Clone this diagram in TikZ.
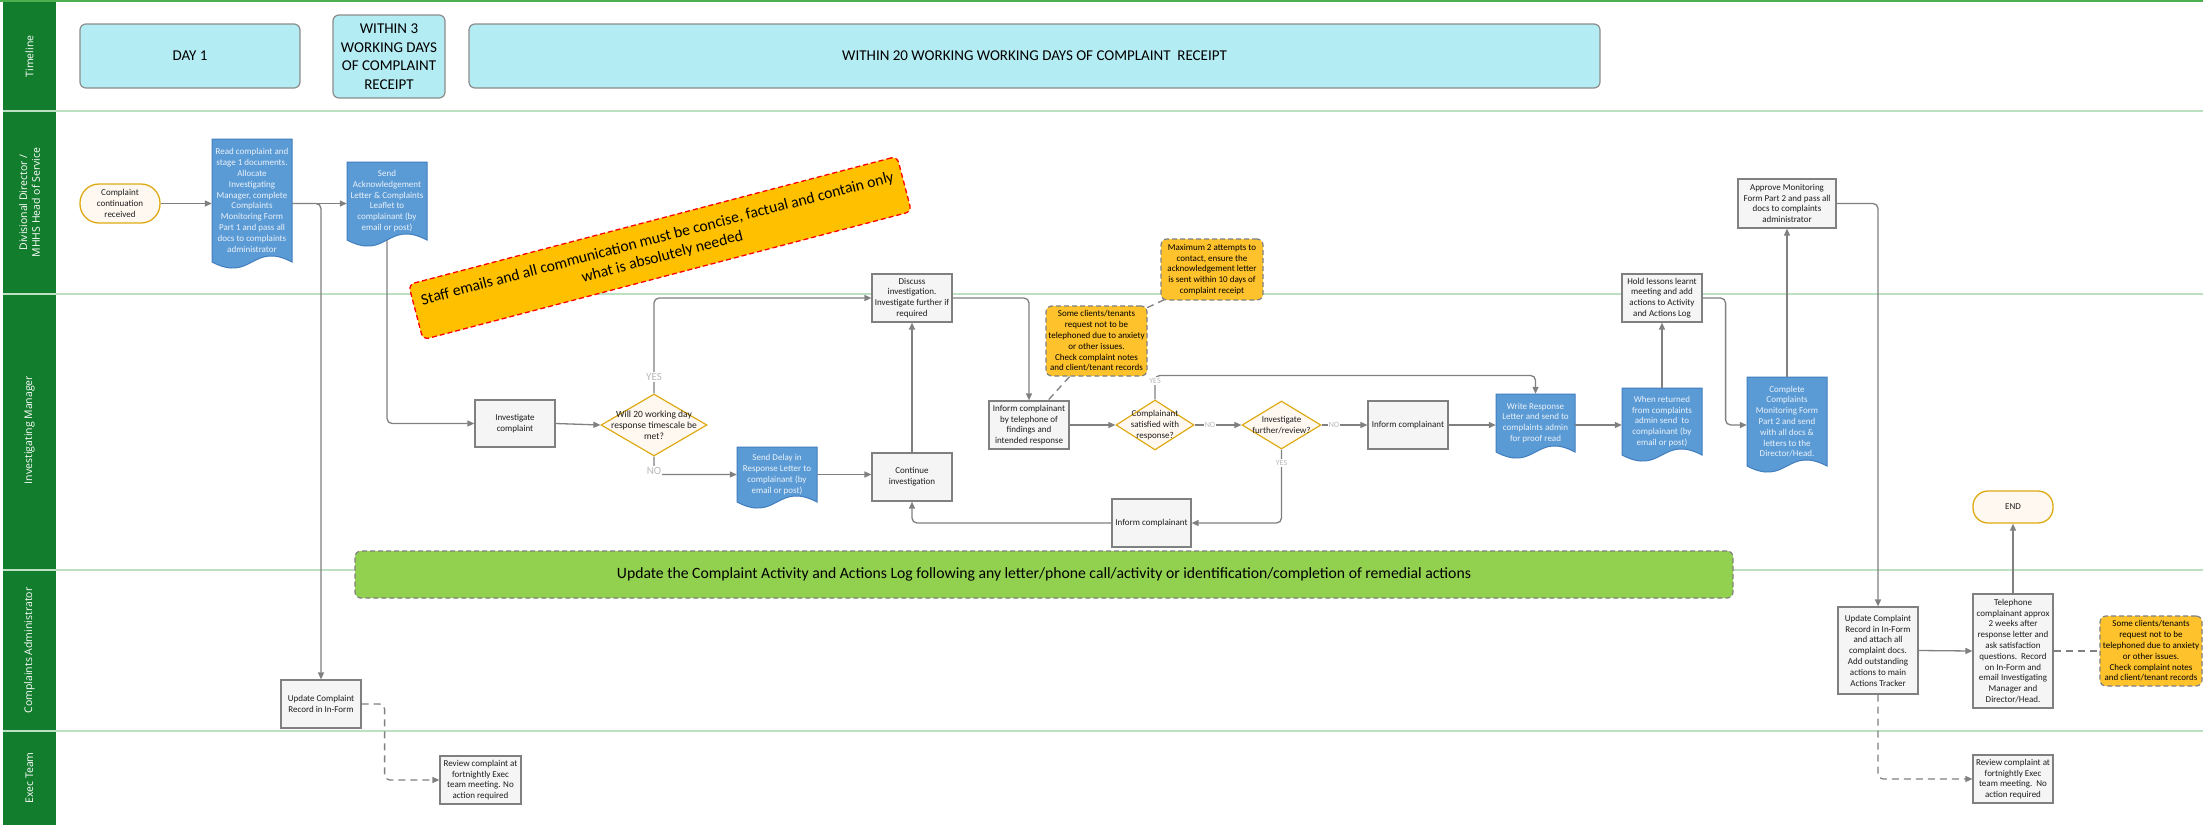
\documentclass[tikz,border=0pt]{standalone}
\usepackage{fontspec}
\setmainfont{Carlito}
\newfontfamily\hdrfont{Open Sans}
\usetikzlibrary{arrows.meta,shapes.geometric,calc}

\definecolor{hdrgreen}{RGB}{19,125,46}
\definecolor{sepgreen}{RGB}{190,224,194}
\definecolor{topgreen}{RGB}{76,175,80}
\definecolor{tlfill}{RGB}{180,236,243}
\definecolor{tlborder}{RGB}{140,140,140}
\definecolor{docblue}{RGB}{91,155,213}
\definecolor{docborder}{RGB}{65,125,190}
\definecolor{notefill}{RGB}{254,194,44}
\definecolor{bannerfill}{RGB}{255,192,0}
\definecolor{barfill}{RGB}{146,208,80}
\definecolor{gold}{RGB}{222,170,20}
\definecolor{cream}{RGB}{255,248,240}
\definecolor{boxfill}{RGB}{245,245,245}
\definecolor{boxborder}{RGB}{128,128,128}
\definecolor{linegray}{RGB}{128,128,128}
\definecolor{lblgray}{RGB}{185,185,185}
\definecolor{textdark}{RGB}{30,30,30}
\definecolor{doctxt}{RGB}{235,242,250}

\newcommand\smallf{\fontsize{9}{10.8}\selectfont}
\newcommand\bigf{\fontsize{15}{18.5}\selectfont}
\newcommand\barf{\fontsize{15.7}{18.5}\selectfont}
\newcommand\hdrf{\hdrfont\fontsize{10.5}{12.8}\selectfont}

\tikzset{
  box/.style={draw=boxborder, fill=boxfill, line width=1.2pt, align=center, inner sep=1pt, font=\smallf, text=textdark},
  term/.style={draw=gold, fill=cream, line width=1.3pt, rounded corners=15pt, align=center, inner sep=1pt, font=\smallf, text=textdark},
  dia/.style={shape=diamond, draw=gold, fill=cream, line width=1.2pt, inner sep=0pt},
  diatext/.style={align=center, inner sep=0pt, font=\smallf, text=textdark},
  docstyle/.style={draw=docborder, fill=docblue, line width=1pt},
  doctextstyle/.style={align=center, inner sep=1pt, font=\smallf, text=doctxt},
  note/.style={draw=linegray, dash pattern=on 5pt off 3pt, fill=notefill, line width=1.2pt, rounded corners=6pt, align=center, inner sep=1pt, font=\smallf, text=black},
  tlbox/.style={draw=tlborder, fill=tlfill, line width=1.2pt, rounded corners=6pt, align=center, font=\bigf, text=black},
  hdrtext/.style={rotate=90, align=center, font=\hdrf, text=white},
  conn/.style={draw=linegray, line width=1.3pt, rounded corners=5pt},
  arr/.style={conn, -{Triangle[length=7pt,width=6pt]}},
  dconn/.style={conn, dash pattern=on 7pt off 5pt},
  darr/.style={arr, dash pattern=on 7pt off 5pt},
  lbl/.style={font=\fontsize{11}{12}\selectfont, text=lblgray, fill=white, inner sep=1pt},
  slbl/.style={font=\fontsize{8}{9}\selectfont, text=lblgray, fill=white, inner sep=1pt}
}

\newcommand\docshape[6]{%
  \filldraw[docstyle] (#2,#3) -- (#4,#3) -- (#4,#5) .. controls ({(#2+#4)/2},{#5-21}) and ({(#2+#4)/2},{#5+21}) .. (#2,#5) -- cycle;
  \node[doctextstyle, minimum width={#4-#2}, minimum height={#5-#3}] (#1) at ({(#2+#4)/2},{(#3+#5)/2}) {#6};
}

\begin{document}
\begin{tikzpicture}[x=1pt,y=-1pt]
\useasboundingbox (0,0) rectangle (2203,825);
\fill[white] (0,0) rectangle (2203,825);

% lanes
\draw[topgreen, line width=2pt] (0,1) -- (2203,1);
\foreach \yy in {111,294,570,731} {\draw[sepgreen, line width=1.5pt] (56,\yy) -- (2203,\yy);}
\fill[hdrgreen] (3,2) rectangle (56,825);
\foreach \yy in {111,294,570,731} {\draw[sepgreen, line width=1.5pt] (3,\yy) -- (56,\yy);}
\node[hdrtext] (hTL) at (29.5,56.5) {Timeline};
\node[hdrtext] (hDD) at (29.5,202.5) {Divisional Director /\\MHHS Head of Service};
\node[hdrtext] (hIM) at (29.5,430) {Investigating Manager};
\node[hdrtext] (hCA) at (29.5,650.5) {Complaints Administrator};
\node[hdrtext] (hET) at (29.5,778) {Exec Team};

% timeline
\node[tlbox, minimum width=220, minimum height=64] (t1) at (190,56) {DAY 1};
\node[tlbox, minimum width=112, minimum height=83, inner sep=1pt] (t2) at (389,56.5) {WITHIN 3\\WORKING DAYS\\OF COMPLAINT\\RECEIPT};
\node[tlbox, minimum width=1131, minimum height=64] (t3) at (1034.5,56) {WITHIN 20 WORKING WORKING DAYS OF COMPLAINT\ \ RECEIPT};

% divisional director lane
\node[term, rounded corners=19pt, minimum width=80, minimum height=39] (start) at (120,203.5) {Complaint\\continuation\\received};
\docshape{doc1}{212}{139}{292}{262}{Read complaint and\\stage 1 documents.\\Allocate\\Investigating\\Manager, complete\\Complaints\\Monitoring Form\\Part 1 and pass all\\docs to complaints\\administrator}
\docshape{doc2}{347}{162}{427}{240}{Send\\Acknowledgement\\Letter \& Complaints\\Leaflet to\\complainant (by\\email or post)}
\node[box, minimum width=98, minimum height=49] (approve) at (1787,203.5) {Approve Monitoring\\Form Part 2 and pass all\\docs to complaints\\administrator};

% investigating manager lane
\node[box, minimum width=80, minimum height=47] (invest) at (515,423.5) {Investigate\\complaint};
\node[dia, minimum width=106, minimum height=62] (dia1) at (654,425) {};
\node[diatext, font=\fontsize{9.5}{11}\selectfont] (dia1t) at (dia1) {Will 20 working day\\response timescale be\\met?};
\node[box, minimum width=80, minimum height=48] (discuss) at (912,298) {Discuss\\investigation.\\Investigate further if\\required};
\docshape{delay}{737}{447}{817}{502}{Send Delay in\\Response Letter to\\complainant (by\\email or post)}
\node[box, minimum width=80, minimum height=48] (cont) at (912,477) {Continue\\investigation};
\node[box, minimum width=80, minimum height=48] (inform1) at (1029,425) {Inform complainant\\by telephone of\\findings and\\intended response};
\node[note, minimum width=101, minimum height=70] (note1) at (1096.5,341) {Some clients/tenants\\request not to be\\telephoned due to anxiety\\or other issues.\\Check complaint notes\\and client/tenant records};
\node[note, minimum width=102, minimum height=61] (note2) at (1212,269.5) {Maximum 2 attempts to\\contact, ensure the\\acknowledgement letter\\is sent within 10 days of\\complaint receipt};
\node[dia, minimum width=78, minimum height=50] (dia2) at (1155,425) {};
\node[diatext] (dia2t) at (dia2) {Complainant\\satisfied with\\response?};
\node[dia, minimum width=79, minimum height=48] (dia3) at (1281.5,425) {};
\node[diatext] (dia3t) at (dia3) {Investigate\\further/review?};
\node[box, minimum width=80, minimum height=48] (inform2) at (1408,425) {Inform complainant};
\docshape{write}{1496}{394}{1575}{452}{Write Response\\Letter and send to\\complaints admin\\for proof read}
\node[box, minimum width=79, minimum height=48] (inform3) at (1151.5,523) {Inform complainant};
\docshape{returned}{1622}{388}{1702}{455}{When returned\\from complaints\\admin send\ \ to\\complainant (by\\email or post)}
\node[box, minimum width=80, minimum height=48] (hold) at (1662,298) {Hold lessons learnt\\meeting and add\\actions to Activity\\and Actions Log};
\docshape{complete}{1747}{377}{1827}{466}{Complete\\Complaints\\Monitoring Form\\Part 2 and send\\with all docs \&\\letters to the\\Director/Head.}
\node[term, minimum width=80, minimum height=32] (endn) at (2013,507) {END};

% banner
\node[draw=red, dash pattern=on 5pt off 3pt, fill=bannerfill, line width=1.3pt, rounded corners=6pt, align=center, font=\barf, text=black, minimum width=505, minimum height=57, inner sep=2pt, rotate=14.7] (banner) at (660,248) {Staff emails and all communication must be concise, factual and contain only\\what is absolutely needed};

% complaints administrator lane
\node[draw=linegray, dash pattern=on 5pt off 3pt, fill=barfill, line width=1.2pt, rounded corners=6pt, font=\barf, text=black, minimum width=1378, minimum height=47] (gbar) at (1044,574.5) {Update the Complaint Activity and Actions Log following any letter/phone call/activity or identification/completion of remedial actions};
\node[box, minimum width=80, minimum height=48] (upd1) at (321,704) {Update Complaint\\Record in In-Form};
\node[box, minimum width=80, minimum height=87] (upd2) at (1878,650.5) {Update Complaint\\Record in In-Form\\and attach all\\complaint docs.\\Add outstanding\\actions to main\\Actions Tracker};
\node[box, minimum width=80, minimum height=114] (tel) at (2013,651) {Telephone\\complainant approx\\2 weeks after\\response letter and\\ask satisfaction\\questions.\ \ Record\\on In-Form and\\email Investigating\\Manager and\\Director/Head.};
\node[note, minimum width=102, minimum height=70] (note3) at (2151,651) {Some clients/tenants\\request not to be\\telephoned due to anxiety\\or other issues.\\Check complaint notes\\and client/tenant records};

% exec team
\node[box, minimum width=81, minimum height=48] (review1) at (480.5,780) {Review complaint at\\fortnightly Exec\\team meeting. No\\action required};
\node[box, minimum width=80, minimum height=48] (review2) at (2013,779) {Review complaint at\\fortnightly Exec\\team meeting.\ \ No\\action required};

% connectors
\draw[arr] (start.east) -- (start.east -| doc1.west);
\draw[arr] (doc1.east |- start.east) -- (doc2.west |- start.east);
\draw[arr] (doc1.east |- start.east) -| (upd1.north);
\draw[arr] (doc2.south) |- (invest.west);
\draw[arr] (invest.east) -- (dia1.west);
\draw[arr] (dia1.north) |- (discuss.west);
\draw[arr] (dia1.south) |- (delay.west);
\draw[arr] (delay.east) -- (delay.east -| cont.west);
\draw[arr] (cont.north) -- (discuss.south);
\draw[arr] (discuss.east) -| (inform1.north);
\draw[dconn] ($(note1.south)+(-27,0)$) -- ($(inform1.north)+(19,0)$);
\draw[dconn] ($(note2.south west)+(4,-1)$) -- ($(note1.north east)+(-2,3)$);
\draw[arr] (inform1.east) -- (dia2.west);
\draw[arr] (dia2.north) -- ++(0,-24) -| (write.north);
\draw[arr] (dia2.east) -- (dia3.west);
\draw[arr] (dia3.east) -- (inform2.west);
\draw[arr] (inform2.east) -- (inform2.east -| write.west);
\draw[arr] (dia3.south) |- (inform3.east);
\draw[arr] (inform3.west) -| (cont.south);
\draw[arr] (write.east |- inform2.east) -- (inform2.east -| returned.west);
\draw[arr] (returned.north) -- (hold.south);
\draw[arr] (hold.east) -- ++(23,0) |- (inform2.east -| complete.west);
\draw[arr] (complete.north) -- (approve.south);
\draw[arr] (approve.east) -| (upd2.north);
\draw[arr] (upd2.east) -- (tel.west);
\draw[arr] (tel.north) -- (endn.south);
\draw[dconn] (tel.east) -- (note3.west);
\draw[darr] (upd2.south) |- (review2.west);
\draw[darr] (upd1.east) -- ++(23,0) |- (review1.west);

% labels
\node[lbl] (yes1) at (654,377) {YES};
\node[lbl] (no1) at (654,471) {NO};
\node[slbl] (yes2) at (1155,381) {YES};
\node[slbl] (no2) at (1210,425) {NO};
\node[slbl] (no3) at (1334,425) {NO};
\node[slbl] (yes3) at (1281.5,463) {YES};
\end{tikzpicture}
\end{document}
